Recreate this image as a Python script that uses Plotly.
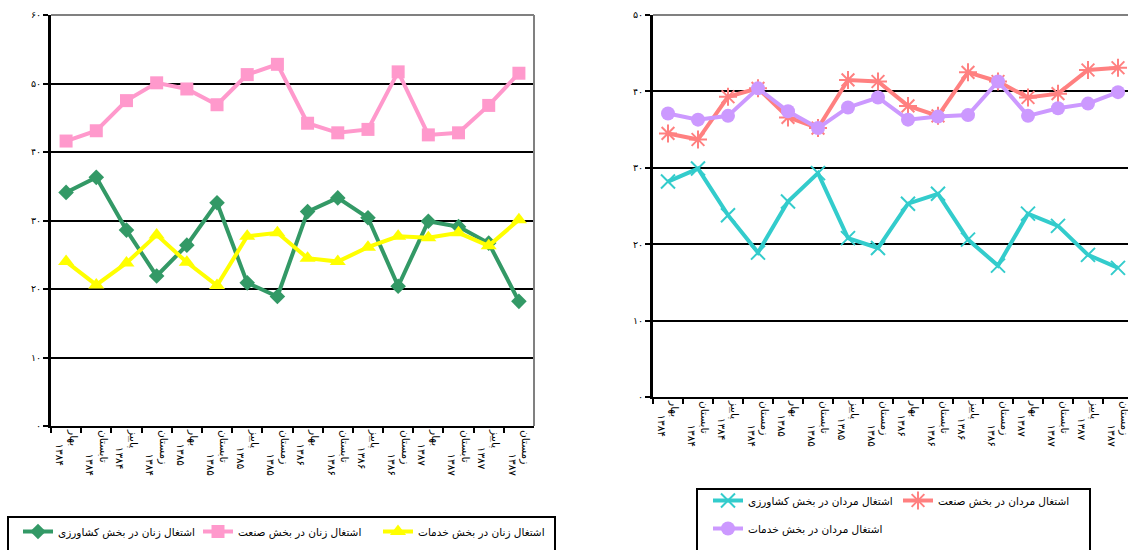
import plotly.graph_objects as go

categories = ["بهار ۱۳۸۴", "تابستان ۱۳۸۴", "پاییز ۱۳۸۴", "زمستان ۱۳۸۴",
              "بهار ۱۳۸۵", "تابستان ۱۳۸۵", "پاییز ۱۳۸۵", "زمستان ۱۳۸۵",
              "بهار ۱۳۸۶", "تابستان ۱۳۸۶", "پاییز ۱۳۸۶", "زمستان ۱۳۸۶",
              "بهار ۱۳۸۷", "تابستان ۱۳۸۷", "پاییز ۱۳۸۷", "زمستان ۱۳۸۷"]

# Women (left chart)
women_agri = [34.1, 36.3, 28.6, 21.9, 26.4, 32.6, 20.9, 18.9, 31.3, 33.3, 30.4, 20.4, 29.9, 29.1, 26.7, 18.2]
women_ind = [41.6, 43.1, 47.5, 50.1, 49.2, 46.9, 51.3, 52.8, 44.2, 42.8, 43.3, 51.7, 42.5, 42.8, 46.8, 51.5]
women_serv = [24.0, 20.6, 23.8, 27.9, 23.9, 20.5, 27.7, 28.2, 24.5, 24.0, 26.1, 27.7, 27.5, 28.2, 26.3, 30.1]

# Men (right chart)
men_agri = [28.2, 29.9, 23.8, 18.9, 25.6, 29.3, 20.8, 19.5, 25.3, 26.6, 20.6, 17.2, 24.0, 22.4, 18.6, 16.9]
men_ind = [34.5, 33.7, 39.3, 40.4, 36.6, 35.2, 41.5, 41.3, 38.1, 36.8, 42.5, 41.3, 39.2, 39.7, 42.8, 43.1]
men_serv = [37.1, 36.3, 36.8, 40.4, 37.4, 35.2, 37.9, 39.2, 36.3, 36.7, 36.9, 41.3, 36.8, 37.8, 38.4, 39.9]

left_ticks = [0, 10, 20, 30, 40, 50, 60]
left_tick_text = ["۰", "۱۰", "۲۰", "۳۰", "۴۰", "۵۰", "۶۰"]
right_ticks = [0, 10, 20, 30, 40, 50]
right_tick_text = ["۰", "۱۰", "۲۰", "۳۰", "۴۰", "۵۰"]

names_w = ["اشتغال زنان در بخش کشاورزی", "اشتغال زنان در بخش صنعت", "اشتغال زنان در بخش خدمات"]
names_m = ["اشتغال مردان در بخش کشاورزی", "اشتغال مردان در بخش صنعت", "اشتغال مردان در بخش خدمات"]

# wrapped tick labels: season on first line, year on a second line that starts lower
year_indent = {"بهار": 4, "تابستان": 7, "پاییز": 5, "زمستان": 7}
tick_labels = []
for c in categories:
    season, year = c.split(" ")
    tick_labels.append(season + "<br>" + "\u00a0" * year_indent[season] + year)

FONT = "DejaVu Sans"
fig = go.Figure()

fig.add_trace(go.Scatter(x=categories, y=women_agri, name=names_w[0], mode="lines+markers",
                         line=dict(color="#339966", width=4),
                         marker=dict(symbol="diamond", size=12, color="#339966"),
                         xaxis="x", yaxis="y", legend="legend"))
fig.add_trace(go.Scatter(x=categories, y=women_ind, name=names_w[1], mode="lines+markers",
                         line=dict(color="#FF99CC", width=4),
                         marker=dict(symbol="square", size=13, color="#FF99CC"),
                         xaxis="x", yaxis="y", legend="legend"))
fig.add_trace(go.Scatter(x=categories, y=women_serv, name=names_w[2], mode="lines+markers",
                         line=dict(color="#FFFF00", width=4),
                         marker=dict(symbol="triangle-up", size=14, color="#FFFF00"),
                         xaxis="x", yaxis="y", legend="legend"))

fig.add_trace(go.Scatter(x=categories, y=men_agri, name=names_m[0], mode="lines+markers",
                         line=dict(color="#33CCCC", width=4),
                         marker=dict(symbol="x-thin-open", size=14, color="#33CCCC",
                                     line=dict(color="#33CCCC", width=2)),
                         xaxis="x2", yaxis="y2", legend="legend2"))
fig.add_trace(go.Scatter(x=categories, y=men_ind, name=names_m[1], mode="lines+markers",
                         line=dict(color="#FF8080", width=4),
                         marker=dict(symbol="asterisk-open", size=15, color="#FF8080",
                                     line=dict(color="#FF8080", width=2)),
                         xaxis="x2", yaxis="y2", legend="legend2"))
fig.add_trace(go.Scatter(x=categories, y=men_serv, name=names_m[2], mode="lines+markers",
                         line=dict(color="#CC99FF", width=4),
                         marker=dict(symbol="circle", size=14, color="#CC99FF"),
                         xaxis="x2", yaxis="y2", legend="legend3"))

W, H = 1128, 550
xcommon = dict(type="category", tickson="boundaries", ticks="outside", ticklen=5, tickwidth=2,
               tickcolor="black", showline=True, linecolor="black", linewidth=2,
               showgrid=False, tickangle=90, tickfont=dict(family=FONT, size=10.5, color="black"),
               tickvals=categories, ticktext=tick_labels, zeroline=False, fixedrange=True,
               automargin=False)
ycommon = dict(ticks="outside", ticklen=5, tickwidth=2, tickcolor="black", showline=True,
               linecolor="black", linewidth=3, showgrid=True, gridcolor="black", gridwidth=2,
               zeroline=False, tickfont=dict(family=FONT, size=9.5, color="black"),
               automargin=False, fixedrange=True)

LF = dict(family=FONT, size=10.5, color="black")
fig.update_layout(
    width=W, height=H, margin=dict(l=0, r=0, t=0, b=0, autoexpand=False),
    paper_bgcolor="white", plot_bgcolor="white",
    font=dict(family=FONT, size=11, color="black"),
    xaxis=dict(domain=[51 / W, 534 / W], range=[-0.5, 15.5], anchor="y", **xcommon),
    yaxis=dict(domain=[1 - 426 / H, 1 - 15 / H], range=[0, 60], tickvals=left_ticks,
               ticktext=left_tick_text, anchor="x", **ycommon),
    xaxis2=dict(domain=[653 / W, 1.0], range=[-0.5, -0.5 + (W - 653) / 30.0], anchor="y2", **xcommon),
    yaxis2=dict(domain=[1 - 397 / H, 1 - 15 / H], range=[0, 50], tickvals=right_ticks,
                ticktext=right_tick_text, anchor="x2", **ycommon),
    showlegend=True,
    legend=dict(orientation="h", x=18 / W, y=1 - 517 / H, xanchor="left", yanchor="top",
                entrywidth=135, entrywidthmode="pixels", borderwidth=0,
                bgcolor="rgba(0,0,0,0)", font=LF),
    legend2=dict(orientation="h", x=708 / W, y=1 - 486 / H, xanchor="left", yanchor="top",
                 entrywidth=145, entrywidthmode="pixels", borderwidth=0,
                 bgcolor="rgba(0,0,0,0)", font=LF),
    legend3=dict(orientation="h", x=708 / W, y=1 - 514 / H, xanchor="left", yanchor="top",
                 borderwidth=0, bgcolor="rgba(0,0,0,0)", font=LF),
)

shapes = [
    dict(type="line", xref="x domain", yref="y domain", x0=0, x1=1, y0=1, y1=1,
         line=dict(color="#808080", width=2)),
    dict(type="line", xref="x domain", yref="y domain", x0=1, x1=1, y0=0, y1=1,
         line=dict(color="#808080", width=2)),
    dict(type="line", xref="x2 domain", yref="y2 domain", x0=0, x1=1, y0=1, y1=1,
         line=dict(color="#808080", width=2)),
    dict(type="rect", xref="paper", yref="paper", x0=8 / W, x1=555 / W, y0=-0.1, y1=1 - 517 / H,
         line=dict(color="black", width=2), fillcolor="rgba(0,0,0,0)"),
    dict(type="rect", xref="paper", yref="paper", x0=697 / W, x1=1090 / W, y0=-0.1, y1=1 - 489 / H,
         line=dict(color="black", width=2), fillcolor="rgba(0,0,0,0)"),
]
fig.update_layout(shapes=shapes)

fig.write_html("out.html", config={"displayModeBar": False},
               post_script="document.body.style.margin='0';document.body.style.padding='0';")
